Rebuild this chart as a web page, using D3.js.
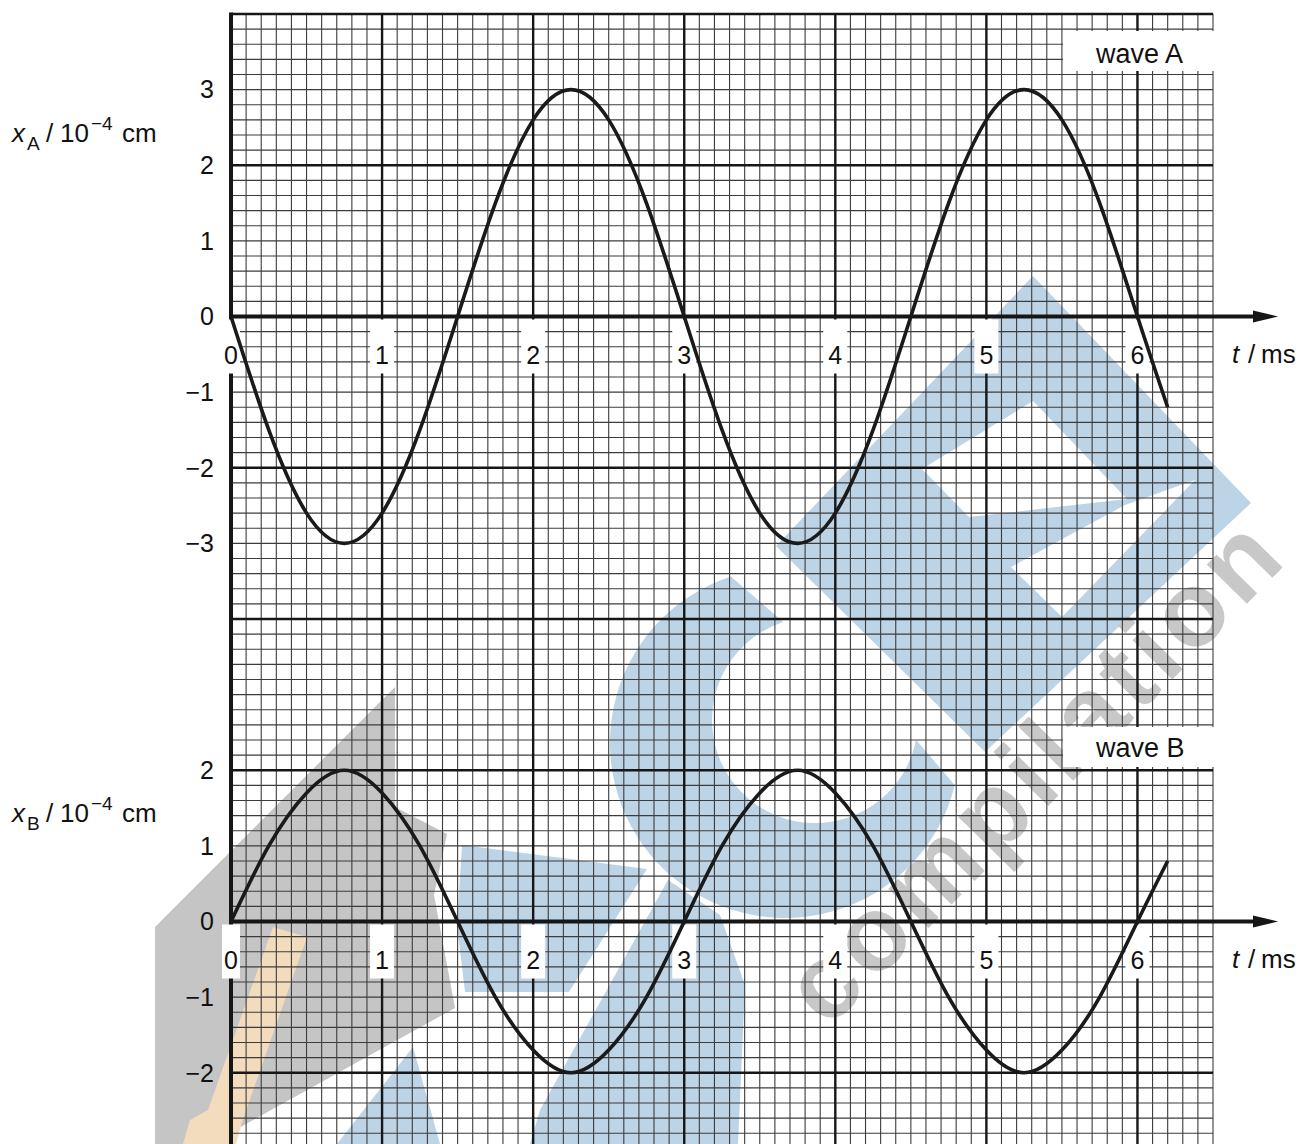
<!DOCTYPE html>
<html>
<head>
<meta charset="utf-8">
<script src="https://cdn.jsdelivr.net/npm/d3@7"></script>
<style>
  html, body { margin: 0; padding: 0; background: #fff; }
  svg { display: block; font-family: "Liberation Sans", Arial, sans-serif; }
</style>
</head>
<body>
<svg id="chart" width="1302" height="1144"></svg>
<script>
(function() {
    'use strict';

    // values (t in ms, displacement in 10^-4 cm)
    const times = [0, 0.25, 0.5, 0.75, 1, 1.25, 1.5, 1.75, 2, 2.25, 2.5, 2.75, 3,
                   3.25, 3.5, 3.75, 4, 4.25, 4.5, 4.75, 5, 5.25, 5.5, 5.75, 6, 6.2];
    const waveA = [0, -1.5, -2.6, -3, -2.6, -1.5, 0, 1.5, 2.6, 3, 2.6, 1.5, 0,
                   -1.5, -2.6, -3, -2.6, -1.5, 0, 1.5, 2.6, 3, 2.6, 1.5, 0, -1.2];
    const waveB = [0, 1, 1.7, 2, 1.7, 1, 0, -1, -1.7, -2, -1.7, -1, 0,
                   1, 1.7, 2, 1.7, 1, 0, -1, -1.7, -2, -1.7, -1, 0, 0.8];
    const timeTicks = [0, 1, 2, 3, 4, 5, 6];
    const ticksA = [3, 2, 1, 0, -1, -2, -3];
    const ticksB = [2, 1, 0, -1, -2];

    const svg = d3.select('#chart');
    const x = d3.scaleLinear().domain([0, 6.5]).range([231, 1213]);
    const yA = d3.scaleLinear().domain([0, 4]).range([316.5, 14]);
    const yB = d3.scaleLinear().domain([0, 4]).range([yA(-8), yA(-4)]);

    svg.append('rect').attr('width', 1302).attr('height', 1144).attr('fill', '#fff');

    // watermark behind the paper grid
    const wm = svg.append('g').attr('class', 'watermark');
    const blue = '#bdd3e6';
    const poly = pts => 'M' + pts.map(p => p.join(',')).join('L') + 'Z';

    wm.append('path').attr('fill', '#c5c5c5')
        .attr('d', poly([[155, 927], [395, 687], [395, 807], [447, 834], [434, 895],
                         [455, 1008], [210, 1144], [155, 1144]]));
    wm.append('path').attr('fill', '#f3dcbd')
        .attr('d', poly([[273, 927], [307, 937], [242, 1122], [236, 1144], [183, 1144],
                         [190, 1120], [208, 1110]]));

    // the big "C"
    const oc = [785, 743], or = 175, ic = [815, 720], ir = 103;
    const pt = (c, r, a) => [c[0] + r * Math.cos(a * Math.PI / 180), c[1] + r * Math.sin(a * Math.PI / 180)];
    const o1 = pt(oc, or, 252), o2 = pt(oc, or, 14), i1 = pt(ic, ir, 11), i2 = pt(ic, ir, 252);
    wm.append('path').attr('fill', blue)
        .attr('d', `M${o1}A${or},${or} 0 1 0 ${o2}L${i1}A${ir},${ir} 0 1 1 ${i2}Z`);

    wm.append('path').attr('fill', blue)
        .attr('d', poly([[1033, 276], [1251, 503], [985, 752], [776, 546]]));
    wm.append('path').attr('fill', '#fff')
        .attr('d', poly([[922, 469], [1033, 401], [1127, 499], [969, 517]]));
    wm.append('path').attr('fill', '#fff')
        .attr('d', poly([[1011, 567], [1125, 505], [1195, 480], [1062, 617]]));

    wm.append('path').attr('fill', blue)
        .attr('d', poly([[462, 845], [647, 869], [569, 992], [465, 992], [457, 925]]));
    wm.append('path').attr('fill', blue)
        .attr('d', poly([[668, 880], [720, 915], [745, 985], [738, 1144], [530, 1144], [540, 1110]]));
    wm.append('path').attr('fill', blue)
        .attr('d', poly([[413, 1047], [440, 1144], [337, 1144]]));

    wm.append('text')
        .attr('transform', 'translate(828,1030) rotate(-45.5)')
        .attr('font-size', 106)
        .attr('font-weight', 'bold')
        .attr('fill', '#c8c8c8')
        .attr('textLength', 655)
        .attr('lengthAdjust', 'spacing')
        .text('compilation');

    // graph paper
    const hVals = d3.range(0, 76).map(i => 4 - i * 0.2);
    const vVals = d3.range(0, 66).map(i => i / 10);
    const grid = svg.append('g').attr('class', 'grid');

    grid.selectAll('line.hmin')
        .data(hVals.filter((d, i) => i % 10 !== 0))
        .join('line')
        .attr('class', 'hmin')
        .attr('x1', x(0)).attr('x2', x(6.5))
        .attr('y1', d => yA(d)).attr('y2', d => yA(d))
        .attr('stroke', '#3c3c3c').attr('stroke-width', 1.1);

    grid.selectAll('line.vmin')
        .data(vVals.filter((d, i) => i % 10 !== 0))
        .join('line')
        .attr('class', 'vmin')
        .attr('x1', d => x(d)).attr('x2', d => x(d))
        .attr('y1', yA(4)).attr('y2', 1144)
        .attr('stroke', '#3c3c3c').attr('stroke-width', 1.1);

    grid.selectAll('line.hmaj')
        .data(hVals.filter((d, i) => i % 10 === 0))
        .join('line')
        .attr('class', 'hmaj')
        .attr('x1', x(0)).attr('x2', x(6.5))
        .attr('y1', d => yA(d)).attr('y2', d => yA(d))
        .attr('stroke', '#161616').attr('stroke-width', 2.4);

    grid.selectAll('line.vmaj')
        .data(vVals.filter((d, i) => i % 10 === 0))
        .join('line')
        .attr('class', 'vmaj')
        .attr('x1', d => x(d)).attr('x2', d => x(d))
        .attr('y1', yA(4) - 1).attr('y2', 1144)
        .attr('stroke', '#161616').attr('stroke-width', 2.4);

    // axes
    const axes = svg.append('g').attr('class', 'axes');
    axes.append('line')
        .attr('x1', x(0)).attr('x2', x(0))
        .attr('y1', yA(4) - 1.5).attr('y2', 1144)
        .attr('stroke', '#161616').attr('stroke-width', 4);

    [yA(0), yB(0)].forEach(y0 => {
        axes.append('line')
            .attr('x1', x(0) - 2).attr('x2', 1258)
            .attr('y1', y0).attr('y2', y0)
            .attr('stroke', '#161616').attr('stroke-width', 3.8);
        axes.append('path')
            .attr('d', `M1253,${y0 - 6}L1278,${y0}L1253,${y0 + 6}Z`)
            .attr('fill', '#161616');
    });

    // time tick labels with their white patches
    function timeLabels(y0) {
        const g = svg.append('g');
        g.selectAll('rect')
            .data(timeTicks)
            .join('rect')
            .attr('x', d => x(d) - (d === 0 ? 9 : 12))
            .attr('y', y0 + 3)
            .attr('width', d => d === 0 ? 18 : 24)
            .attr('height', 54)
            .attr('fill', '#fff');
        g.selectAll('text')
            .data(timeTicks)
            .join('text')
            .attr('x', d => x(d))
            .attr('y', y0 + 47)
            .attr('text-anchor', 'middle')
            .attr('font-size', 25)
            .attr('fill', '#111')
            .text(d => d);
        const t = g.append('text')
            .attr('y', y0 + 46)
            .attr('font-size', 26)
            .attr('fill', '#111');
        t.append('tspan').attr('x', 1232).attr('font-style', 'italic').text('t');
        t.append('tspan').attr('x', 1248).text('/');
        t.append('tspan').attr('x', 1261).text('ms');
    }
    timeLabels(yA(0));
    timeLabels(yB(0));

    const fmt = v => v < 0 ? '\u2212' + Math.abs(v) : String(v);

    function valueLabels(ticks, y) {
        svg.append('g').selectAll('text')
            .data(ticks)
            .join('text')
            .attr('x', 214)
            .attr('y', d => y(d))
            .attr('dy', '0.35em')
            .attr('text-anchor', 'end')
            .attr('font-size', 25)
            .attr('fill', '#111')
            .text(fmt);
    }
    valueLabels(ticksA, yA);
    valueLabels(ticksB, yB);

    function axisTitle(sub, baseline) {
        const t = svg.append('text')
            .attr('y', baseline)
            .attr('font-size', 26)
            .attr('fill', '#111');
        t.append('tspan').attr('x', 12).attr('font-style', 'italic').text('x');
        t.append('tspan').attr('x', 27).attr('dy', 8).attr('font-size', 19).text(sub);
        t.append('tspan').attr('x', 46).attr('dy', -8).text('/');
        t.append('tspan').attr('x', 60).text('10');
        t.append('tspan').attr('x', 91).attr('dy', -12).attr('font-size', 19).text('\u22124');
        t.append('tspan').attr('x', 122).attr('dy', 12).text('cm');
    }
    axisTitle('A', 142);
    axisTitle('B', 822);

    // curves
    const line = y => d3.line()
        .x(d => x(d[0]))
        .y(d => y(d[1]))
        .curve(d3.curveNatural);

    svg.append('path')
        .datum(times.map((t, i) => [t, waveA[i]]))
        .attr('d', line(yA))
        .attr('fill', 'none')
        .attr('stroke', '#1a1a1a')
        .attr('stroke-width', 3.6)
        .attr('stroke-linejoin', 'round');

    svg.append('path')
        .datum(times.map((t, i) => [t, waveB[i]]))
        .attr('d', line(yB))
        .attr('fill', 'none')
        .attr('stroke', '#1a1a1a')
        .attr('stroke-width', 3.6)
        .attr('stroke-linejoin', 'round');

    // wave name boxes
    [['wave A', 31, 63], ['wave B', 727, 757]].forEach(([name, top, base]) => {
        svg.append('rect')
            .attr('x', 1063).attr('y', top)
            .attr('width', 151).attr('height', 40)
            .attr('fill', '#fff');
        svg.append('text')
            .attr('x', 1096).attr('y', base)
            .attr('font-size', 27)
            .attr('fill', '#111')
            .text(name);
    });
})();
</script>
</body>
</html>
